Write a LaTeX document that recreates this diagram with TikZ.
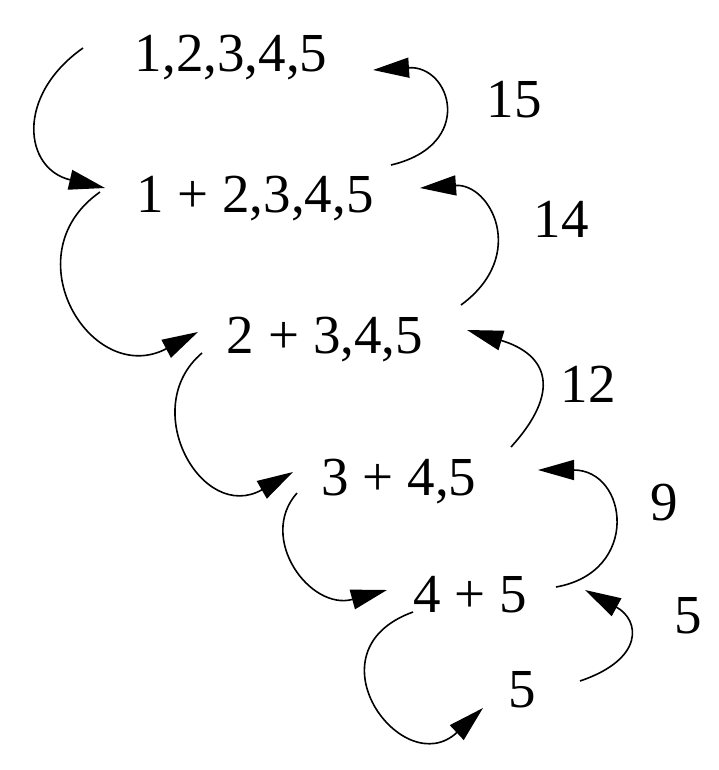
\documentclass[tikz,border=0pt]{standalone}
\usepackage{fontspec}
\setmainfont{Liberation Serif}
\usetikzlibrary{arrows.meta,calc}
\tikzset{
  stepNode/.style={inner sep=0pt,anchor=base,font=\fontsize{27.5}{33}\selectfont},
  costLbl/.style={inner sep=0pt,anchor=base,font=\fontsize{27.5}{33}\selectfont},
  loopArr/.style={-{Triangle[length=18pt,width=10pt]},line width=0.8pt}
}
\begin{document}
\begin{tikzpicture}[x=0.5pt,y=0.5pt]
  \useasboundingbox (0,0) rectangle (718,-770);
  \node[stepNode] (s1) at (231,-72) {1,2,3,4,5};
  \node[stepNode] (s2) at (255,-213) {1 + 2,3,4,5};
  \node[stepNode] (s3) at (325,-353) {2 + 3,4,5};
  \node[stepNode] (s4) at (399,-495) {3 + 4,5};
  \node[stepNode] (s5) at (470,-612) {4 + 5};
  \node[stepNode] (s6) at (522,-707) {5};
  \node[costLbl] (c15) at (514,-118) {15};
  \node[costLbl] (c14) at (561,-237) {14};
  \node[costLbl] (c12) at (588,-402) {12};
  \node[costLbl] (c9) at (664,-520) {9};
  \node[costLbl] (c5) at (688,-633) {5};
  % down the left side
  \draw[loopArr] ($(s1.base)+(-148,24)$) .. controls +(-68,-48) and +(-81,19) .. ($(s2.base)+(-150,25)$);
  \draw[loopArr] ($(s2.base)+(-155,21)$) .. controls +(-90,-63) and +(-106,-56) .. ($(s3.base)+(-127,21)$);
  \draw[loopArr] ($(s3.base)+(-123,0)$) .. controls +(-65,-55) and +(-91,-52) .. ($(s4.base)+(-106,23)$);
  \draw[loopArr] ($(s4.base)+(-102,2)$) .. controls +(-40,-45) and +(-77,-21) .. ($(s5.base)+(-83,22)$);
  \draw[loopArr] ($(s5.base)+(-57,0)$) .. controls +(-108,-39) and +(-80,-75) .. ($(s6.base)+(-39,-1)$);
  % back up the right side
  \draw[loopArr] ($(s2.base)+(136,48)$) .. controls +(85,20) and +(78,5) .. ($(s1.base)+(142,2)$);
  \draw[loopArr] ($(s3.base)+(136,48)$) .. controls +(68,50) and +(70,5) .. ($(s2.base)+(165,25)$);
  \draw[loopArr] ($(s4.base)+(112,48)$) .. controls +(50,55) and +(82,-25) .. ($(s3.base)+(142,23)$);
  \draw[loopArr] ($(s5.base)+(86,25)$) .. controls +(85,15) and +(90,0) .. ($(s4.base)+(139,25)$);
  \draw[loopArr] ($(s6.base)+(58,26)$) .. controls +(65,22) and +(55,-30) .. ($(s5.base)+(115,22)$);
\end{tikzpicture}
\end{document}
